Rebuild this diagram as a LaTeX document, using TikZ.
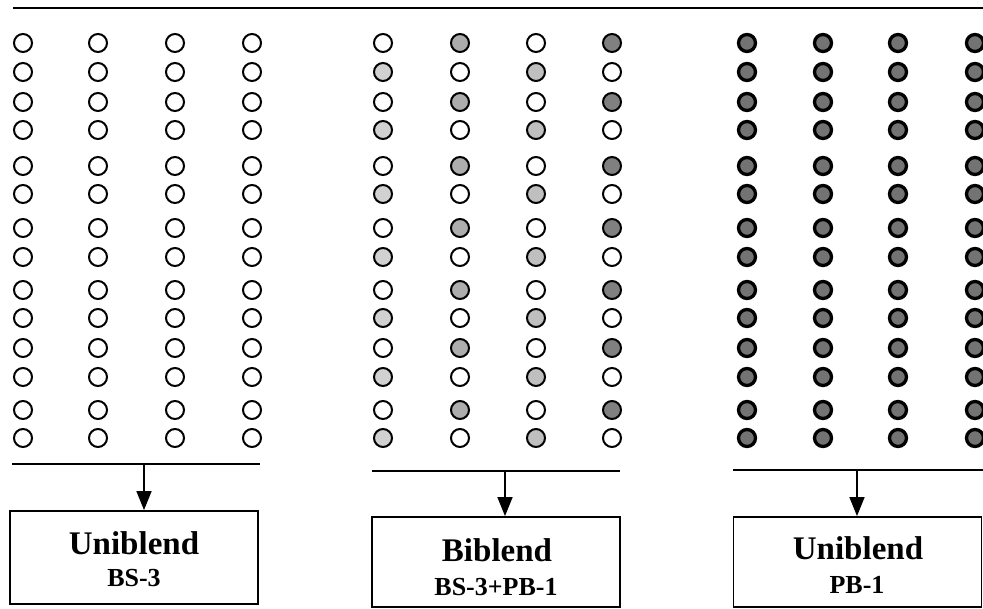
\documentclass[tikz,border=0pt]{standalone}
\usepackage{fontspec}
\setmainfont{Liberation Serif}
\usetikzlibrary{arrows.meta}
\definecolor{cgA}{gray}{0.82}
\definecolor{cgB}{gray}{0.68}
\definecolor{cgC}{gray}{0.75}
\definecolor{cgD}{gray}{0.50}
\definecolor{cgE}{gray}{0.45}
\begin{document}
\begin{tikzpicture}[x=1pt,y=-1pt,
  ring/.style={draw=black,line width=2pt},
  darkring/.style={draw=black,line width=3.3pt,fill=cgE},
  bar/.style={line width=1.6pt},
  topbar/.style={line width=2.6pt},
  arr/.style={line width=1.6pt,-{Triangle[width=15pt,length=19pt]}},
  box/.style={draw=black,line width=1.8pt,inner sep=0pt},
  bigtxt/.style={font=\bfseries\fontsize{33}{35}\selectfont,inner sep=0pt},
  smalltxt/.style={font=\bfseries\fontsize{26}{28}\selectfont,inner sep=0pt}]
\useasboundingbox (0,0) rectangle (983,609);
\fill[white] (0,0) rectangle (983,609);
% top line
\coordinate (topL) at (13,8);
\coordinate (topR) at (983,8);
\draw[topbar] (topL) -- (topR);
% circles
\foreach \y [count=\i from 0] in {43,72,102,130,166,194,228,257,290,318,348,377,410,438} {
  \pgfmathtruncatemacro\odd{mod(\i,2)}
  \ifnum\odd=1
    \def\fa{cgA}\def\fb{white}\def\fc{cgC}\def\fd{white}
  \else
    \def\fa{white}\def\fb{cgB}\def\fc{white}\def\fd{cgD}
  \fi
  % group 1
  \foreach \x in {23,98,175,252} {\draw[ring,fill=white] (\x,\y) circle[radius=9];}
  % group 2
  \draw[ring,fill=\fa] (383,\y) circle[radius=9];
  \draw[ring,fill=\fb] (460,\y) circle[radius=9];
  \draw[ring,fill=\fc] (536,\y) circle[radius=9];
  \draw[ring,fill=\fd] (612,\y) circle[radius=9];
  % group 3
  \foreach \x in {747,823,898,975} {\draw[darkring] (\x,\y) circle[radius=8.5];}
}
% bars
\coordinate (l1) at (12,464); \coordinate (r1) at (260,464); \coordinate (t1) at (144,464);
\coordinate (l2) at (372,471); \coordinate (r2) at (620,471); \coordinate (t2) at (505,471);
\coordinate (l3) at (733,470); \coordinate (r3) at (983,470); \coordinate (t3) at (857,470);
\draw[bar] (l1) -- (r1);
\draw[bar] (l2) -- (r2);
\draw[bar] (l3) -- (r3);
% boxes
\node[box,minimum width=248pt,minimum height=93pt] (b1) at (134,557.5) {};
\node[box,minimum width=248pt,minimum height=90pt] (b2) at (496,562) {};
\node[box,minimum width=248pt,minimum height=90pt] (b3) at (857.5,562) {};
% arrows
\draw[arr] (t1) -- (t1 |- b1.north);
\draw[arr] (t2) -- (t2 |- b2.north);
\draw[arr] (t3) -- (t3 |- b3.north);
% texts
\node[bigtxt] (u1) at (134,543) {Uniblend};
\node[smalltxt] (s1) at (134,578) {BS-3};
\node[bigtxt] (u2) at (497,550) {Biblend};
\node[smalltxt] (s2) at (496,587) {BS-3+PB-1};
\node[bigtxt] (u3) at (858,548) {Uniblend};
\node[smalltxt] (s3) at (857,585) {PB-1};
\end{tikzpicture}
\end{document}
